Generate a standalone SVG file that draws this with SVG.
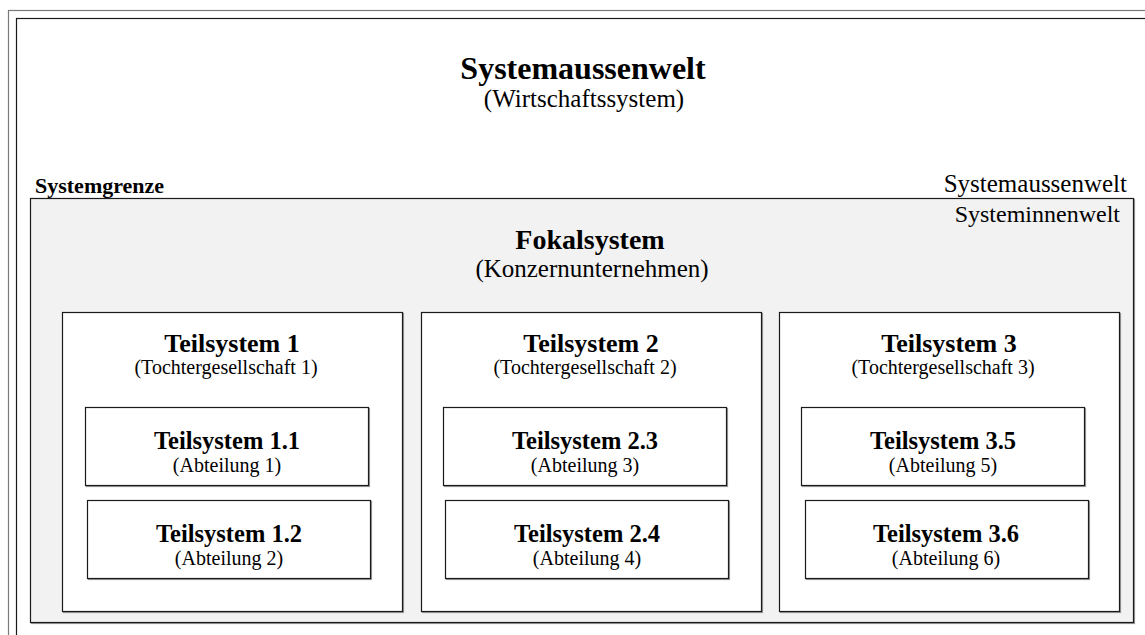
<svg xmlns="http://www.w3.org/2000/svg" width="1145" height="635" viewBox="0 0 1145 635">
  <style>
    text { font-family: "Liberation Serif", "Times New Roman", serif; fill: #000; }
    .h1 { font-size: 32px; font-weight: bold; text-anchor: middle; }
    .h1b { font-size: 28px; font-weight: bold; text-anchor: middle; }
    .s1 { font-size: 25px; text-anchor: middle; }
    .h2 { font-size: 26px; font-weight: bold; text-anchor: middle; }
    .h3 { font-size: 24.5px; font-weight: bold; text-anchor: middle; }
    .s2 { font-size: 20px; text-anchor: middle; }
    .lbl { font-size: 24px; }
    .box { fill: #fff; stroke: #1a1a1a; stroke-width: 1.2; }
    .shadow { fill: none; stroke: #9a9a9a; stroke-width: 1.2; }
    .focal { fill: #f2f2f2; stroke: #1a1a1a; stroke-width: 1.2; }
  </style>

  <rect width="1145" height="635" fill="#fff"/>

  <!-- environment frame (double line, runs past the right and bottom edges) -->
  <g id="umwelt">
    <rect x="8.5" y="10.5" width="1200" height="700" fill="none" stroke="#7a7a7a" stroke-width="1.2"/>
    <rect x="16.5" y="18.5" width="1200" height="700" fill="none" stroke="#1a1a1a" stroke-width="1.2"/>
    <text class="h1" x="583" y="79">Systemaussenwelt</text>
    <text class="s1" x="584" y="107">(Wirtschaftssystem)</text>
    <text x="35" y="193" font-size="22" font-weight="bold">Systemgrenze</text>
    <text x="1127" y="192" font-size="25" text-anchor="end">Systemaussenwelt</text>
  </g>

  <!-- focal system -->
  <g id="fokalsystem">
    <rect class="shadow" x="31.5" y="199.5" width="1103" height="424"/>
    <rect class="focal" x="30.5" y="198.5" width="1103" height="424"/>
    <text class="lbl" x="1120" y="222" text-anchor="end">Systeminnenwelt</text>
    <text class="h1b" x="590" y="249">Fokalsystem</text>
    <text class="s1" x="592" y="277">(Konzernunternehmen)</text>
  </g>

  <!-- subsidiaries -->
  <g id="teilsystem-1">
    <rect class="shadow" x="63.5" y="313.5" width="340" height="299"/>
    <rect class="box" x="62.5" y="312.5" width="340" height="299"/>
    <text class="h2" x="232" y="352">Teilsystem 1</text>
    <text class="s2" x="226" y="374">(Tochtergesellschaft 1)</text>
  </g>
  <g id="teilsystem-2">
    <rect class="shadow" x="422.5" y="313.5" width="340" height="299"/>
    <rect class="box" x="421.5" y="312.5" width="340" height="299"/>
    <text class="h2" x="591" y="352">Teilsystem 2</text>
    <text class="s2" x="585" y="374">(Tochtergesellschaft 2)</text>
  </g>
  <g id="teilsystem-3">
    <rect class="shadow" x="780.5" y="313.5" width="340" height="299"/>
    <rect class="box" x="779.5" y="312.5" width="340" height="299"/>
    <text class="h2" x="949" y="352">Teilsystem 3</text>
    <text class="s2" x="943" y="374">(Tochtergesellschaft 3)</text>
  </g>

  <!-- departments -->
  <g id="teilsystem-1-1">
    <rect class="shadow" x="86.5" y="408.5" width="283" height="78"/>
    <rect class="box" x="85.5" y="407.5" width="283" height="78"/>
    <text class="h3" x="227" y="449">Teilsystem 1.1</text>
    <text class="s2" x="227" y="472">(Abteilung 1)</text>
  </g>
  <g id="teilsystem-1-2">
    <rect class="shadow" x="88.5" y="501.5" width="283" height="78"/>
    <rect class="box" x="87.5" y="500.5" width="283" height="78"/>
    <text class="h3" x="229" y="542">Teilsystem 1.2</text>
    <text class="s2" x="229" y="565">(Abteilung 2)</text>
  </g>
  <g id="teilsystem-2-3">
    <rect class="shadow" x="444.5" y="408.5" width="283" height="78"/>
    <rect class="box" x="443.5" y="407.5" width="283" height="78"/>
    <text class="h3" x="585" y="449">Teilsystem 2.3</text>
    <text class="s2" x="585" y="472">(Abteilung 3)</text>
  </g>
  <g id="teilsystem-2-4">
    <rect class="shadow" x="446.5" y="501.5" width="283" height="78"/>
    <rect class="box" x="445.5" y="500.5" width="283" height="78"/>
    <text class="h3" x="587" y="542">Teilsystem 2.4</text>
    <text class="s2" x="587" y="565">(Abteilung 4)</text>
  </g>
  <g id="teilsystem-3-5">
    <rect class="shadow" x="802.5" y="408.5" width="283" height="78"/>
    <rect class="box" x="801.5" y="407.5" width="283" height="78"/>
    <text class="h3" x="943" y="449">Teilsystem 3.5</text>
    <text class="s2" x="943" y="472">(Abteilung 5)</text>
  </g>
  <g id="teilsystem-3-6">
    <rect class="shadow" x="806.5" y="501.5" width="283" height="78"/>
    <rect class="box" x="805.5" y="500.5" width="283" height="78"/>
    <text class="h3" x="946" y="542">Teilsystem 3.6</text>
    <text class="s2" x="946" y="565">(Abteilung 6)</text>
  </g>

  <!-- no connectors in this diagram -->
  <g id="connectors"/>
</svg>
